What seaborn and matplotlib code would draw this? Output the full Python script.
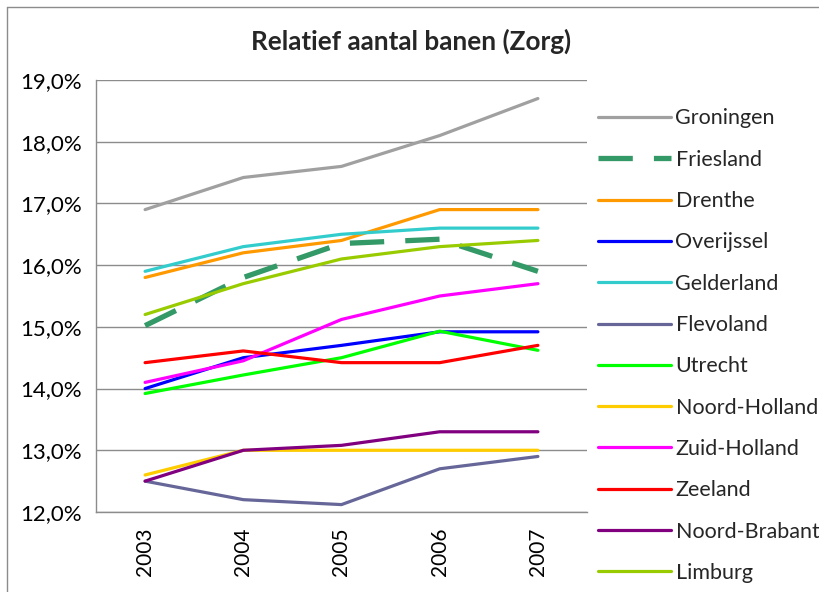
import matplotlib
matplotlib.use("Agg")
import matplotlib.pyplot as plt
import matplotlib.ticker as mticker
from matplotlib.lines import Line2D
import seaborn as sns

# Data (in %)
years = ["2003", "2004", "2005", "2006", "2007"]
groningen = [16.9, 17.42, 17.6, 18.1, 18.7]
friesland = [15.02, 15.8, 16.35, 16.42, 15.9]
drenthe = [15.8, 16.2, 16.4, 16.9, 16.9]
overijssel = [14.0, 14.5, 14.7, 14.92, 14.92]
gelderland = [15.9, 16.3, 16.5, 16.6, 16.6]
flevoland = [12.5, 12.2, 12.12, 12.7, 12.9]
utrecht = [13.92, 14.22, 14.5, 14.93, 14.62]
noord_holland = [12.6, 13.0, 13.0, 13.0, 13.0]
zuid_holland = [14.1, 14.45, 15.12, 15.5, 15.7]
zeeland = [14.42, 14.61, 14.42, 14.42, 14.7]
noord_brabant = [12.5, 13.0, 13.08, 13.3, 13.3]
limburg = [15.2, 15.7, 16.1, 16.3, 16.4]

series = [
    ("Groningen", groningen, "#a0a0a0"),
    ("Friesland", friesland, "#339966"),
    ("Drenthe", drenthe, "#ff9900"),
    ("Overijssel", overijssel, "#0000ff"),
    ("Gelderland", gelderland, "#33cccc"),
    ("Flevoland", flevoland, "#666699"),
    ("Utrecht", utrecht, "#00ff00"),
    ("Noord-Holland", noord_holland, "#ffcc00"),
    ("Zuid-Holland", zuid_holland, "#ff00ff"),
    ("Zeeland", zeeland, "#ff0000"),
    ("Noord-Brabant", noord_brabant, "#800080"),
    ("Limburg", limburg, "#99cc00"),
]

sns.set_style("white")
plt.rcParams["font.family"] = ["Lato", "DejaVu Sans"]

fig = plt.figure(figsize=(8.19, 5.92), dpi=100)
ax = fig.add_axes([96 / 819, 1 - 512 / 592, (587 - 96) / 819, (512 - 80) / 592])

x = list(range(len(years)))
for name, vals, col in series:
    if name == "Friesland":
        sns.lineplot(x=x, y=vals, ax=ax, color=col, lw=3.8, label=name,
                     linestyle=(0, (6.5, 4)), solid_capstyle="butt")
    else:
        sns.lineplot(x=x, y=vals, ax=ax, color=col, lw=2.3, label=name)

ax.set_xlim(-0.5, 4.5)
ax.set_ylim(12, 19)
ax.yaxis.set_major_locator(mticker.MultipleLocator(1))
ax.yaxis.set_major_formatter(mticker.FuncFormatter(lambda v, p: f"{v:.1f}%".replace(".", ",")))
ax.grid(axis="y", color="#8c8c8c", lw=1)
ax.set_axisbelow(True)

ax.set_xticks(x)
ax.set_xticklabels(years, rotation=90)
ax.set_xticks([i - 0.5 for i in range(len(years) + 1)], minor=True)
ax.tick_params(axis="x", which="major", length=0, pad=11, labelsize=15, labelcolor="black")
ax.tick_params(axis="x", which="minor", length=7, color="#8c8c8c", width=1, direction="out")
ax.tick_params(axis="y", length=6, color="#8c8c8c", width=1, direction="out",
               labelsize=16, pad=4, labelcolor="black")

for s in ["top", "right"]:
    ax.spines[s].set_visible(False)
for s in ["left", "bottom"]:
    ax.spines[s].set_color("#8c8c8c")
    ax.spines[s].set_linewidth(1)

ax.set_xlabel("")
ax.set_ylabel("")
fig.text(411 / 819, 1 - 41 / 592, "Relatief aantal banen (Zorg)", fontsize=18.8,
         fontweight="bold", ha="center", va="center")

ax.legend(loc="upper left", bbox_to_anchor=(598 / 819, 1 - 108.5 / 592),
          bbox_transform=fig.transFigure, frameon=False, fontsize=15.5,
          handlelength=3.4, handletextpad=0.2, labelspacing=0.99,
          borderpad=0, borderaxespad=0)

# chart area border (left and top edges visible in the reference)
fig.add_artist(Line2D([7 / 819, 7 / 819], [0, 1 - 7 / 592], color="#8c8c8c", lw=1,
                      transform=fig.transFigure))
fig.add_artist(Line2D([7 / 819, 1], [1 - 7 / 592, 1 - 7 / 592], color="#8c8c8c", lw=1,
                      transform=fig.transFigure))

fig.savefig("out.png", dpi=100)
